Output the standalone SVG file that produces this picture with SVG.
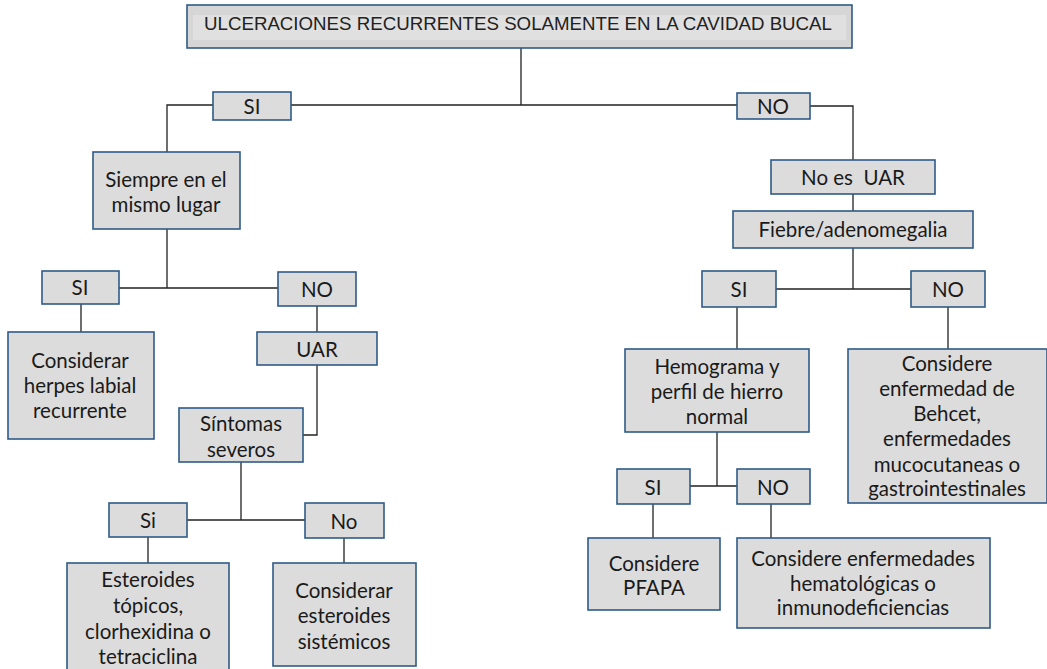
<svg xmlns="http://www.w3.org/2000/svg" width="1047" height="669" viewBox="0 0 1047 669">
<style>
.b{fill:#dcdcdc;stroke:#2f5a88;stroke-width:1.6}
.t{font-family:Lato,"Open Sans",sans-serif;font-size:20.5px;fill:#1a1a1a;text-anchor:middle}
.h{font-family:"Liberation Sans",Arial,sans-serif;font-size:18.7px;fill:#222;text-anchor:middle}
.c{fill:none;stroke:#222;stroke-width:1.3}
</style>
<rect width="1047" height="669" fill="#fff"/>
<g id="connectors">
<path class="c" d="M521 48V105M291 105H737M213 105H167V152"/>
<path class="c" d="M810 106H853V160M853 194V211M853 248V289M776 289H911"/>
<path class="c" d="M167 229V288M119 288H278M81 304V332M317 306V332M317 365V435H303M241 462V520M187 520H305M148 537V563M344 538V563"/>
<path class="c" d="M737 307V349M948 307V349M717 432V486M690 486H737M653 504V538M771 504V538"/>
</g>
<g id="n-top"><rect x="187" y="5" width="665" height="43" fill="#d6d6d6" stroke="#2f5a88" stroke-width="1.6"/><rect x="193" y="15" width="653" height="25" fill="#e0e0e0"/><text class="h" x="518" y="30">ULCERACIONES RECURRENTES SOLAMENTE EN LA CAVIDAD BUCAL</text></g>
<g id="n-si1"><rect class="b" x="213" y="92" width="78" height="28"/><text class="t" x="252" y="114">SI</text></g>
<g id="n-no1"><rect class="b" x="737" y="93" width="73" height="26"/><text class="t" x="773" y="114">NO</text></g>
<g id="n-siempre"><rect class="b" x="93" y="152" width="147" height="77"/><text class="t" x="166" y="187">Siempre en el</text><text class="t" x="166" y="212">mismo lugar</text></g>
<g id="n-si2"><rect class="b" x="42" y="271" width="77" height="33"/><text class="t" x="80" y="295">SI</text></g>
<g id="n-no2"><rect class="b" x="278" y="272" width="78" height="34"/><text class="t" x="317" y="297">NO</text></g>
<g id="n-herpes"><rect class="b" x="8" y="332" width="146" height="107"/><text class="t" x="80" y="368">Considerar</text><text class="t" x="80" y="393">herpes labial</text><text class="t" x="80" y="418">recurrente</text></g>
<g id="n-uar"><rect class="b" x="257" y="332" width="120" height="33"/><text class="t" x="317" y="357">UAR</text></g>
<g id="n-sintomas"><rect class="b" x="179" y="408" width="124" height="54"/><text class="t" x="241" y="431">Síntomas</text><text class="t" x="241" y="457">severos</text></g>
<g id="n-si3"><rect class="b" x="109" y="503" width="78" height="34"/><text class="t" x="148" y="528">Si</text></g>
<g id="n-no3"><rect class="b" x="305" y="503" width="79" height="35"/><text class="t" x="344" y="529">No</text></g>
<g id="n-esteroides"><rect class="b" x="67" y="563" width="162" height="110"/><text class="t" x="148" y="587">Esteroides</text><text class="t" x="148" y="613">tópicos,</text><text class="t" x="148" y="639">clorhexidina o</text><text class="t" x="148" y="664">tetraciclina</text></g>
<g id="n-sistemicos"><rect class="b" x="273" y="563" width="143" height="103"/><text class="t" x="344" y="598">Considerar</text><text class="t" x="344" y="623">esteroides</text><text class="t" x="344" y="649">sistémicos</text></g>
<g id="n-noesuar"><rect class="b" x="771" y="160" width="164" height="34"/><text class="t" x="853" y="185" xml:space="preserve">No es  UAR</text></g>
<g id="n-fiebre"><rect class="b" x="733" y="211" width="240" height="37"/><text class="t" x="853" y="237">Fiebre/adenomegalia</text></g>
<g id="n-si4"><rect class="b" x="702" y="271" width="74" height="36"/><text class="t" x="739" y="297">SI</text></g>
<g id="n-no4"><rect class="b" x="911" y="271" width="74" height="36"/><text class="t" x="948" y="297">NO</text></g>
<g id="n-hemograma"><rect class="b" x="625" y="349" width="184" height="83"/><text class="t" x="717" y="374">Hemograma y</text><text class="t" x="717" y="399">perfil de hierro</text><text class="t" x="717" y="424">normal</text></g>
<g id="n-behcet"><rect class="b" x="848" y="349" width="199" height="154"/><text class="t" x="947" y="371">Considere</text><text class="t" x="947" y="396">enfermedad de</text><text class="t" x="947" y="421">Behcet,</text><text class="t" x="947" y="446">enfermedades</text><text class="t" x="947" y="472">mucocutaneas o</text><text class="t" x="947" y="496">gastrointestinales</text></g>
<g id="n-si5"><rect class="b" x="617" y="469" width="73" height="35"/><text class="t" x="653" y="495">SI</text></g>
<g id="n-no5"><rect class="b" x="737" y="469" width="73" height="35"/><text class="t" x="773" y="495">NO</text></g>
<g id="n-pfapa"><rect class="b" x="588" y="538" width="132" height="72"/><text class="t" x="654" y="571">Considere</text><text class="t" x="654" y="595">PFAPA</text></g>
<g id="n-hemato"><rect class="b" x="737" y="538" width="253" height="90"/><text class="t" x="863" y="566">Considere enfermedades</text><text class="t" x="863" y="591">hematológicas o</text><text class="t" x="863" y="615">inmunodeficiencias</text></g>
</svg>
